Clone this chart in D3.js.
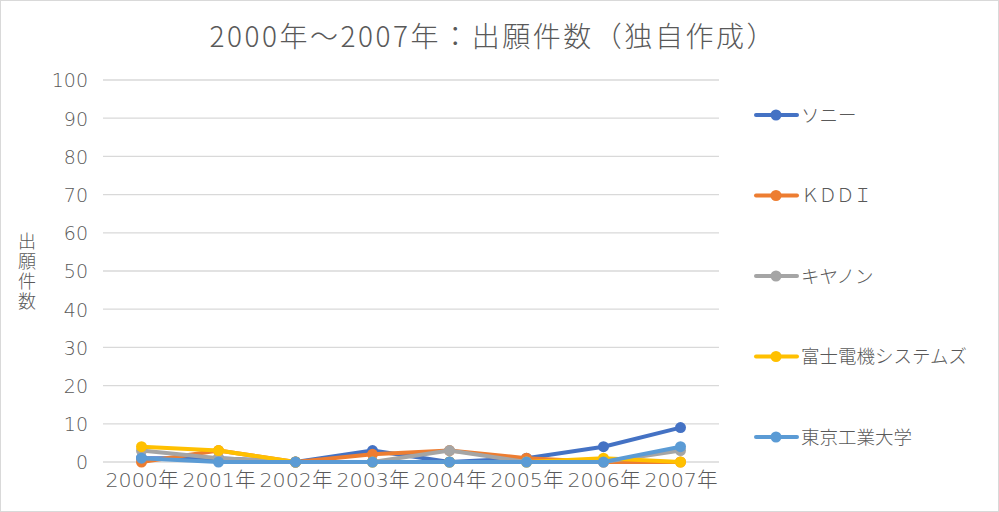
<!DOCTYPE html>
<html><head><meta charset="utf-8">
<script src="https://cdn.jsdelivr.net/npm/d3@7"></script>
<style>
body{margin:0;background:#fff;}
text{font-family:"Noto Sans CJK JP","Noto Sans",sans-serif;fill:#595959;}
.ax text{font-family:"DejaVu Sans","Noto Sans CJK JP",sans-serif;font-weight:200;}
</style></head>
<body><svg id="c" width="999" height="512"></svg>
<script>
const categories = ["2000年","2001年","2002年","2003年","2004年","2005年","2006年","2007年"];
const seriesNames = ["ソニー","ＫＤＤＩ","キヤノン","富士電機システムズ","東京工業大学"];
const sony      = [1,1,0,3,0,1,4,9];
const kddi      = [0,3,0,2,3,1,0,0];
const canon     = [3,1,0,0,3,0,0,3];
const fuji      = [4,3,0,0,0,0,1,0];
const tokyoTech = [1,0,0,0,0,0,0,4];
const yTicks = [0,10,20,30,40,50,60,70,80,90,100];
const colors = ["#4472C4","#ED7D31","#A5A5A5","#FFC000","#5B9BD5"];
const title = "2000年～2007年：出願件数（独自作成）";
const yTitle = "出願件数";

const series = [sony,kddi,canon,fuji,tokyoTech].map((v,i)=>({name:seriesNames[i],values:v,color:colors[i]}));
const svg = d3.select("#c");
svg.append("rect").attr("x",0.5).attr("y",0.5).attr("width",998).attr("height",511)
  .attr("fill","#fff").attr("stroke","#d9d9d9");

const L=103,R=719,T=80,B=462;
const x = d3.scalePoint().domain(categories).range([L,R]).padding(0.5);
const y = d3.scaleLinear().domain([0,100]).range([B,T]);

// grid
svg.append("g").selectAll("line").data(yTicks).join("line")
  .attr("x1",L).attr("x2",R).attr("y1",d=>y(d)).attr("y2",d=>y(d))
  .attr("stroke","#d9d9d9").attr("stroke-width",1.3);

// y axis labels
const ya = svg.append("g").attr("class","ax").attr("transform",`translate(${L},0)`)
  .call(d3.axisLeft(y).tickValues(yTicks).tickSize(0).tickPadding(15));
ya.select(".domain").remove();
ya.selectAll("text").attr("font-family",null).style("font-size","19px").attr("fill","#595959").attr("dy","0.36em");

// x axis labels
const xa = svg.append("g").attr("class","ax").attr("transform",`translate(0,${B})`)
  .call(d3.axisBottom(x).tickSize(0).tickPadding(11));
xa.select(".domain").remove();
xa.selectAll("text").attr("font-family",null).style("font-size","20px").attr("fill","#595959")
  .attr("textLength",73).attr("lengthAdjust","spacingAndGlyphs");

// title
svg.append("text").attr("x",492).attr("y",47).attr("text-anchor","middle")
  .style("font-size","28px").style("font-weight","300")
  .attr("textLength",565).attr("lengthAdjust","spacing").text(title);

// y title (vertical)
svg.append("text").attr("x",27).attr("y",232)
  .style("writing-mode","vertical-rl").style("glyph-orientation-vertical","0")
  .style("font-size","18px").style("letter-spacing","2px").style("font-weight","300").text(yTitle);

// lines
const line = d3.line().x((d,i)=>x(categories[i])).y(d=>y(d));
const g = svg.append("g");
series.forEach(s=>{
  const sg = g.append("g");
  sg.append("path").attr("d",line(s.values)).attr("fill","none")
    .attr("stroke",s.color).attr("stroke-width",4).attr("stroke-linejoin","round").attr("stroke-linecap","round");
  sg.selectAll("circle").data(s.values).join("circle")
    .attr("cx",(d,i)=>x(categories[i])).attr("cy",d=>y(d)).attr("r",5.5).attr("fill",s.color);
});

// legend
const ly = d3.scalePoint().domain(seriesNames).range([115,437]);
const lg = svg.append("g").selectAll("g").data(series).join("g")
  .attr("transform",d=>`translate(0,${ly(d.name)})`);
lg.append("line").attr("x1",756).attr("x2",797).attr("stroke",d=>d.color).attr("stroke-width",4).attr("stroke-linecap","round");
lg.append("circle").attr("cx",776).attr("r",5.5).attr("fill",d=>d.color);
lg.append("text").attr("x",801).attr("dy","0.36em").style("font-size","18.5px").style("font-weight","300")
  .attr("letter-spacing",d=>d.name==="ＫＤＤＩ"?"-1px":null).text(d=>d.name);
</script></body></html>
